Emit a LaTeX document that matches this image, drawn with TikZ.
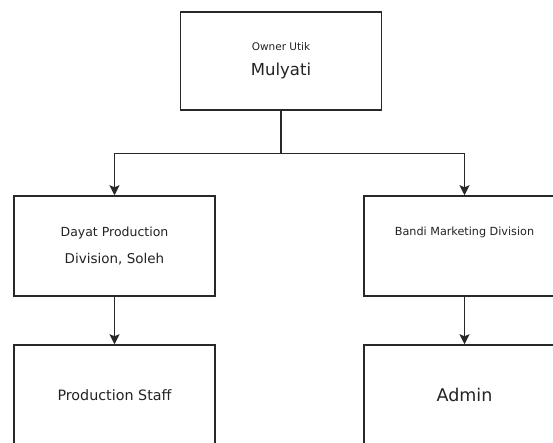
\documentclass[tikz,border=0pt]{standalone}
\usepackage{fontspec}
\setmainfont{DejaVu Sans}
\usetikzlibrary{positioning,calc,arrows.meta}
\definecolor{LineGray}{RGB}{40,40,40}
\definecolor{TextGray}{RGB}{35,35,35}
\tikzset{
  box/.style={draw=LineGray,line width=1.5pt,fill=white,minimum width=201pt,
    minimum height=100pt,inner sep=0pt,align=center,text=TextGray},
  conn/.style={draw=LineGray,line width=1.4pt},
  arr/.style={conn,-{Stealth[length=10pt,width=10pt,inset=2pt]}},
}
\begin{document}
\begin{tikzpicture}[x=1pt,y=-1pt]
  \useasboundingbox (0,0) rectangle (553,442);
  \clip (0,0) rectangle (553,442);
  % boxes
  \node[box,minimum height=98pt] (owner) at (281,61)
    {\fontsize{10.5}{12}\selectfont Owner Utik\\[11pt]\fontsize{16.5}{18}\selectfont Mulyati};
  \node[box] (prod) at (114.5,246)
    {\fontsize{12.5}{14}\selectfont Dayat Production\\[14pt]\fontsize{13.5}{15}\selectfont Division, Soleh};
  \node[box] (mkt) at (464.5,246) {};
  \node[text=TextGray,font=\fontsize{11.2}{13}\selectfont] (mktname) at ($(mkt.center)+(0,-14)$)
    {Bandi Marketing Division};
  \node[box] (staff) at (114.5,395) {\fontsize{14.3}{16}\selectfont Production Staff};
  \node[box] (admin) at (464.5,395) {\fontsize{17.5}{20}\selectfont Admin};
  % connectors
  \draw[conn] (owner.south) -- ++(0,43) coordinate (split);
  \draw[arr] (split) -| (prod.north);
  \draw[arr] (split) -| (mkt.north);
  \draw[arr] (prod.south) -- (staff.north);
  \draw[arr] (mkt.south) -- (admin.north);
\end{tikzpicture}
\end{document}
